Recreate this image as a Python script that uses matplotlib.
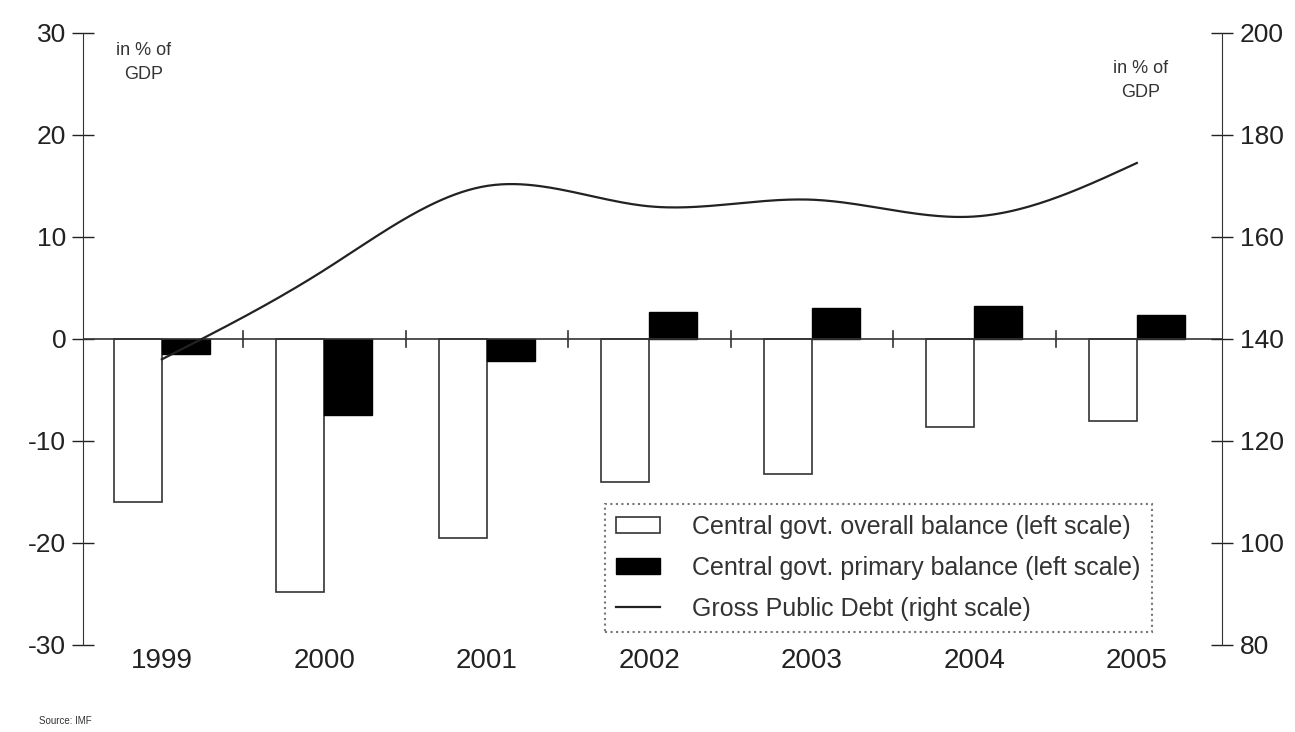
import numpy as np
import matplotlib
matplotlib.use("Agg")
import matplotlib.pyplot as plt
from matplotlib.patches import Patch
from matplotlib.lines import Line2D

years = ["1999", "2000", "2001", "2002", "2003", "2004", "2005"]
overall_balance = [-16.0, -24.8, -19.5, -14.0, -13.2, -8.6, -8.0]
primary_balance = [-1.5, -7.5, -2.2, 2.6, 3.0, 3.2, 2.3]
gross_debt = [136.0, 153.5, 170.0, 166.0, 167.3, 164.0, 174.5]

plt.rcParams['font.family'] = ['Liberation Sans', 'DejaVu Sans']
plt.rcParams['axes.unicode_minus'] = False

fig = plt.figure(figsize=(12.95, 7.32), dpi=100)
ax = fig.add_axes([0.064, 0.119, 0.8795, 0.836])
ax2 = ax.twinx()

x = np.arange(len(years))
w = 0.295
ax.bar(x - w / 2, overall_balance, width=w, facecolor='white', edgecolor='#333333', linewidth=1.2, zorder=2)
ax.bar(x + w / 2, primary_balance, width=w, facecolor='black', edgecolor='black', linewidth=1.0, zorder=2)
ax.axhline(0, color='#333333', linewidth=1.2, zorder=3)

# smooth curve through debt points (natural cubic spline)
def natural_spline(xs, ys, xq):
    xs = np.asarray(xs, float); ys = np.asarray(ys, float)
    n = len(xs)
    h = np.diff(xs)
    A = np.zeros((n, n)); b = np.zeros(n)
    A[0, 0] = 1; A[-1, -1] = 1
    for i in range(1, n - 1):
        A[i, i - 1] = h[i - 1]; A[i, i] = 2 * (h[i - 1] + h[i]); A[i, i + 1] = h[i]
        b[i] = 3 * ((ys[i + 1] - ys[i]) / h[i] - (ys[i] - ys[i - 1]) / h[i - 1])
    c = np.linalg.solve(A, b)
    out = np.empty_like(xq)
    for k, xv in enumerate(xq):
        i = min(max(np.searchsorted(xs, xv) - 1, 0), n - 2)
        dx = xv - xs[i]
        bb = (ys[i + 1] - ys[i]) / h[i] - h[i] * (2 * c[i] + c[i + 1]) / 3
        d = (c[i + 1] - c[i]) / (3 * h[i])
        out[k] = ys[i] + bb * dx + c[i] * dx ** 2 + d * dx ** 3
    return out

xq = np.linspace(0, len(years) - 1, 300)
ax2.plot(xq, natural_spline(x, gross_debt, xq), color='#222222', linewidth=1.6, zorder=4)

ax.set_xlim(-0.486, len(years) - 0.477)
ax.set_ylim(-30, 30)
ax2.set_ylim(80, 200)
ax.set_yticks(range(-30, 31, 10))
ax2.set_yticks(range(80, 201, 20))

for a in (ax, ax2):
    a.spines['top'].set_visible(False)
    a.spines['bottom'].set_visible(False)
ax.spines['right'].set_visible(False)
ax2.spines['left'].set_visible(False)
ax.spines['left'].set_color('#333333')
ax2.spines['right'].set_color('#333333')
ax.tick_params(axis='y', direction='inout', length=16, width=1.0, labelsize=19, pad=4, colors='#222222')
ax2.tick_params(axis='y', direction='inout', length=16, width=1.0, labelsize=19, pad=5, colors='#222222')

ax.set_xticks(x)
ax.set_xticklabels(years, fontsize=20, color='#222222')
ax.tick_params(axis='x', length=0, pad=2)
# boundary ticks on the zero line
for b in np.arange(0.5, len(years) - 1, 1.0):
    ax.plot([b, b], [-0.8, 0.8], color='#333333', linewidth=1.2, zorder=3)

ax.text(0.053, 0.985, "in % of\nGDP", transform=ax.transAxes, ha='center', va='top', fontsize=13,
        color='#333333', multialignment='center', linespacing=1.5)
ax.text(0.929, 0.955, "in % of\nGDP", transform=ax.transAxes, ha='center', va='top', fontsize=13,
        color='#333333', multialignment='center', linespacing=1.5)

handles = [Patch(facecolor='white', edgecolor='#333333', linewidth=1.2),
           Patch(facecolor='black', edgecolor='black'),
           Line2D([0], [0], color='#222222', linewidth=1.6)]
labels = ["Central govt. overall balance (left scale)",
          "Central govt. primary balance (left scale)",
          "Gross Public Debt (right scale)"]
leg = ax2.legend(handles, labels, loc='lower right', bbox_to_anchor=(0.9386, 0.021),
                 borderaxespad=0, fontsize=18, frameon=True, fancybox=False, handlelength=1.75,
                 handleheight=0.6, labelspacing=0.68, borderpad=0.45, handletextpad=1.3)
fr = leg.get_frame()
fr.set_edgecolor('#555555'); fr.set_linestyle(':'); fr.set_linewidth(1.5)
for t in leg.get_texts():
    t.set_color('#333333')

fig.text(0.03, 0.008, "Source: IMF", fontsize=7, color='#333333', ha='left', va='bottom')

fig.savefig("out.png", dpi=100)
